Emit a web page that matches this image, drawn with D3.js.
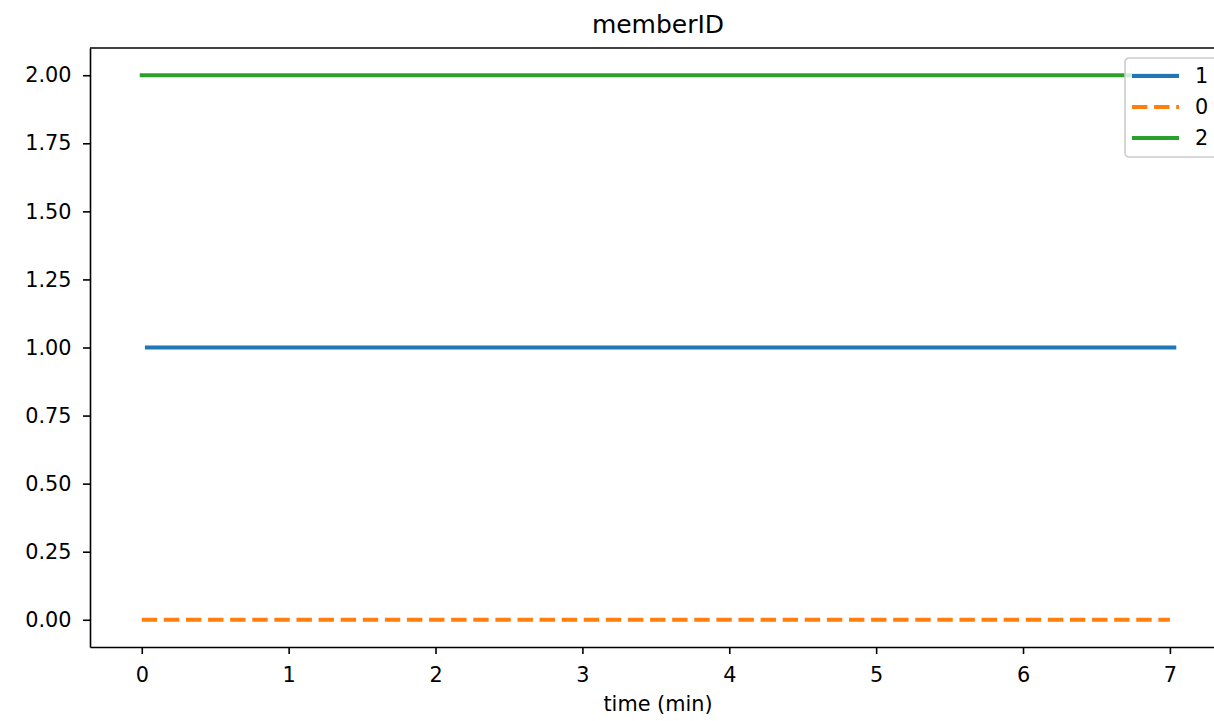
<!doctype html>
<html>
<head>
<meta charset="utf-8">
<script src="https://unpkg.com/d3@7/dist/d3.min.js"></script>
<style>
  body { margin: 0; background: #fff; }
  text { font-family: "DejaVu Sans", sans-serif; fill: #000; }
</style>
</head>
<body>
<svg id="chart" width="1214" height="721"></svg>
<script>
// data
var seriesNames = ["1", "0", "2"];
var seriesColors = ["#1f77b4", "#ff7f0e", "#2ca02c"];
var seriesDash = [null, "15.4,6.7", null];
var series1 = [[0.035, 1], [7.03, 1]];
var series0 = [[0, 0], [7.0, 0]];
var series2 = [[0, 2], [7.05, 2]];
var xTicks = [0, 1, 2, 3, 4, 5, 6, 7];
var yTicks = [0, 0.25, 0.5, 0.75, 1, 1.25, 1.5, 1.75, 2];

var allSeries = [series1, series0, series2];

var svg = d3.select("#chart");

var x = d3.scaleLinear().domain([-0.3525, 7.4025]).range([90, 1229]);
var y = d3.scaleLinear().domain([-0.1, 2.1]).range([647, 48]);

// title
svg.append("text")
    .attr("x", 658).attr("y", 33)
    .attr("text-anchor", "middle")
    .style("font-size", "25px")
    .text("memberID");

// lines
var line = d3.line()
    .x(function (d) { return x(d[0]); })
    .y(function (d) { return y(d[1]); });

allSeries.forEach(function (s, i) {
    svg.append("path")
        .datum(s)
        .attr("d", line)
        .attr("fill", "none")
        .attr("stroke", seriesColors[i])
        .attr("stroke-width", 4)
        .attr("stroke-linecap", seriesDash[i] ? "butt" : "square")
        .attr("stroke-dasharray", seriesDash[i]);
});

// axes
var xAxis = svg.append("g")
    .attr("transform", "translate(0,647)")
    .call(d3.axisBottom(x).tickValues(xTicks).tickSizeInner(7).tickSizeOuter(0)
        .tickPadding(13.5).tickFormat(d3.format("d")));
var yAxis = svg.append("g")
    .attr("transform", "translate(90,0)")
    .call(d3.axisLeft(y).tickValues(yTicks).tickSizeInner(7).tickSizeOuter(0)
        .tickPadding(11.5).tickFormat(d3.format(".2f")));

[xAxis, yAxis].forEach(function (g) {
    g.select(".domain").attr("stroke-width", 1.6).attr("stroke", "#000");
    g.selectAll(".tick line").attr("stroke-width", 1.6).attr("stroke", "#000");
    g.selectAll(".tick text")
        .style("font-size", "20.8px")
        .style("font-family", "DejaVu Sans, sans-serif")
        .attr("fill", "#000");
});
// top spine
svg.append("line")
    .attr("x1", 90).attr("x2", 1229)
    .attr("y1", 48).attr("y2", 48)
    .attr("stroke", "#000").attr("stroke-width", 1.6);

// x label
svg.append("text")
    .attr("x", 658).attr("y", 711)
    .attr("text-anchor", "middle")
    .style("font-size", "20.8px")
    .text("time (min)");

// legend
var legend = svg.append("g").attr("transform", "translate(1125,58)");
legend.append("rect")
    .attr("x", 0).attr("y", 0)
    .attr("width", 110).attr("height", 99)
    .attr("rx", 4)
    .attr("fill", "#fff").attr("fill-opacity", 0.8)
    .attr("stroke", "#ccc").attr("stroke-width", 1.6);

seriesNames.forEach(function (name, i) {
    var ly = 18 + i * 31;
    legend.append("line")
        .attr("x1", 7).attr("x2", 54)
        .attr("y1", ly).attr("y2", ly)
        .attr("stroke", seriesColors[i])
        .attr("stroke-width", 4)
        .attr("stroke-dasharray", seriesDash[i]);
    legend.append("text")
        .attr("x", 70).attr("y", ly + 7)
        .style("font-size", "20.8px")
        .text(name);
});
</script>
</body>
</html>
